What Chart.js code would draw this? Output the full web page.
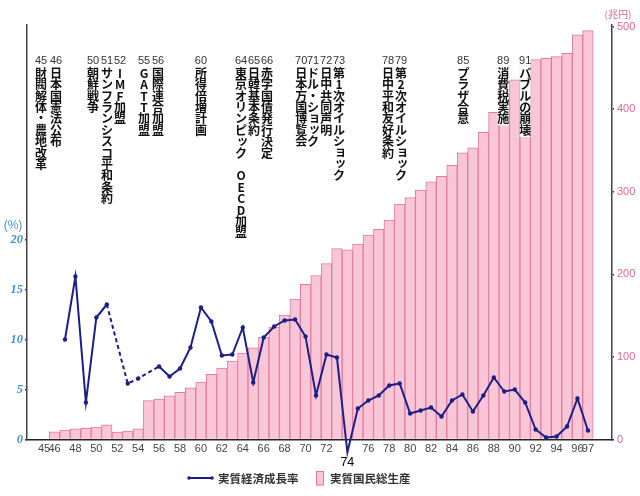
<!DOCTYPE html>
<html><head><meta charset="utf-8">
<script src="https://cdn.jsdelivr.net/npm/chart.js@4"></script>
<style>html,body{margin:0;padding:0;background:#fff;}canvas{display:block;}</style>
</head><body>
<canvas id="c" width="640" height="496"></canvas>
<script>
// ---- data ----
const years = [1946,1947,1948,1949,1950,1951,1952,1953,1954,1955,1956,1957,1958,1959,1960,1961,1962,1963,1964,1965,1966,1967,1968,1969,1970,1971,1972,1973,1974,1975,1976,1977,1978,1979,1980,1981,1982,1983,1984,1985,1986,1987,1988,1989,1990,1991,1992,1993,1994,1995,1996,1997];
const gdp = [9.2,11.3,13,13.5,15,17.8,9,10.3,12.8,47,49,53,57,62.5,69.5,79,86.5,95,104.5,111,124,136,150.5,170,188,198.5,213,231,229.5,236.5,247.5,254.5,265.5,285,293,302,312,318.5,332,347,353,372,396,415,435.5,459.5,460,461.5,463.5,467.5,490,495];
const growthYears = [1947,1948,1949,1950,1951,1953,1954,1956,1957,1958,1959,1960,1961,1962,1963,1964,1965,1966,1967,1968,1969,1970,1971,1972,1973,1974,1975,1976,1977,1978,1979,1980,1981,1982,1983,1984,1985,1986,1987,1988,1989,1990,1991,1992,1993,1994,1995,1996,1997];
const growth = [10.0,16.3,3.7,12.2,13.5,5.6,6.1,7.3,6.3,7.1,9.2,13.2,11.8,8.4,8.5,11.2,5.7,10.2,11.3,11.9,12.0,10.3,4.4,8.5,8.2,-1.3,3.1,3.9,4.4,5.4,5.6,2.6,2.9,3.2,2.3,3.9,4.5,2.8,4.4,6.2,4.8,5.0,3.7,1.0,0.2,0.3,1.3,4.1,0.9];
const dashedFrom = 1951, dashedTo = 1956;
const xTickYears = [1945,1946,1948,1950,1952,1954,1956,1958,1960,1962,1964,1966,1968,1970,1972,1974,1976,1978,1980,1982,1984,1986,1988,1990,1992,1994,1996,1997];
const leftTicks = [0,5,10,15,20];
const rightTicks = [0,100,200,300,400,500];
const eventYears = [1945,1946,1950,1951,1952,1955,1956,1960,1964,1965,1966,1970,1971,1972,1973,1978,1979,1985,1989,1991];
const eventTexts = ['財閥解体・農地改革','日本国憲法公布','朝鮮戦争','サンフランシスコ平和条約','IMF加盟','GATT加盟','国際連合加盟','所得倍増計画','東京オリンピック　OECD加盟','日韓基本条約','赤字国債発行決定','日本万国博覧会','ドル・ショック','日中共同声明','第1次オイルショック','日中平和友好条約','第2次オイルショック','プラザ合意','消費税実施','バブルの崩壊'];
const seriesNames = ['実質経済成長率','実質国民総生産'];

// ---- layout / style ----
const eventNudge = [-3,1.5,-3.3,0.2,2.8,-4.6,-1.1,0,-1.7,0.8,3.4,-4.4,-2.9,-0.3,2.2,-1.1,1.4,0.7,-1.1,0];
const NAVY = '#1c1f86';
const PINK = '#f9c6d7';
const PINK_B = '#e27a9c';
const SANS = "'Liberation Sans', Arial, sans-serif";
const JP = "'Noto Sans CJK JP', sans-serif";

const annot = {
  id: 'annot',
  afterDatasetsDraw(chart) {
    const {ctx} = chart;
    const x = chart.scales.x;
    const STEP = 11.4, TOP = 67.5;
    ctx.save();
    ctx.textAlign = 'center';
    ctx.textBaseline = 'middle';
    eventYears.forEach((yr, i) => {
      const cx = x.getPixelForValue(yr) + eventNudge[i];
      const chars = Array.from(eventTexts[i]);
      const bottom = TOP + chars.length * STEP + 1;
      ctx.fillStyle = '#fff';
      ctx.fillRect(cx - 5.5, 54, 11, bottom - 54);
      ctx.fillStyle = '#333';
      ctx.font = "11px " + SANS;
      ctx.fillText(String(yr).slice(2), cx, 60.5);
      ctx.fillStyle = '#111';
      ctx.font = "bold 12px " + JP;
      chars.forEach((ch, j) => {
        if (ch === '　' || ch === ' ') return;
        let dx = 0, dy = 0;
        if ('ッョャュァィゥェォ'.includes(ch)) { dx = 1.5; dy = -1.5; }
        ctx.fillText(ch, cx + dx, TOP + STEP * (j + 0.5) + dy);
      });
    });
    ctx.restore();
  },
  afterDraw(chart) {
    const {ctx} = chart;
    ctx.save();
    ctx.textBaseline = 'middle';
    ctx.textAlign = 'center';
    ctx.fillStyle = '#4a93d3';
    ctx.font = "12px " + SANS;
    ctx.fillText('(%)', 13, 226);
    ctx.fillStyle = '#e06a92';
    ctx.font = "10px " + JP;
    ctx.fillText('(兆円)', 618, 14);
    // legend
    ctx.strokeStyle = NAVY; ctx.fillStyle = NAVY; ctx.lineWidth = 2;
    ctx.beginPath(); ctx.moveTo(189, 478); ctx.lineTo(212, 478); ctx.stroke();
    [189, 212].forEach(px => { ctx.beginPath(); ctx.arc(px, 478, 1.8, 0, Math.PI * 2); ctx.fill(); });
    ctx.fillStyle = PINK; ctx.fillRect(316, 471.5, 8, 14);
    ctx.strokeStyle = PINK_B; ctx.lineWidth = 1; ctx.strokeRect(316.5, 471.5, 7, 13.5);
    ctx.fillStyle = '#333';
    ctx.textAlign = 'left';
    ctx.font = "bold 11.5px " + JP;
    ctx.fillText(seriesNames[0], 218, 478.5);
    ctx.fillText(seriesNames[1], 330, 478.5);
    ctx.restore();
  }
};

new Chart(document.getElementById('c'), {
  type: 'bar',
  data: {
    datasets: [
      {
        type: 'line', label: seriesNames[0], yAxisID: 'yL',
        data: growthYears.map((y, i) => ({x: y, y: growth[i]})),
        borderColor: NAVY, backgroundColor: NAVY, borderWidth: 2,
        pointRadius: 2.2, pointBorderWidth: 0, pointBackgroundColor: NAVY,
        tension: 0, clip: false,
        segment: {
          borderDash: c => (growthYears[c.p0DataIndex] >= dashedFrom && growthYears[c.p1DataIndex] <= dashedTo) ? [4, 3] : undefined
        }
      },
      {
        type: 'bar', label: seriesNames[1], yAxisID: 'yR',
        data: years.map((y, i) => ({x: y, y: gdp[i]})),
        backgroundColor: PINK, borderColor: PINK_B, borderWidth: 1,
        barPercentage: 1, categoryPercentage: 1
      }
    ]
  },
  options: {
    responsive: false, animation: false, devicePixelRatio: 1,
    layout: {padding: {top: 25, left: 0, right: 0, bottom: 0}},
    plugins: {legend: {display: false}, tooltip: {enabled: false}},
    scales: {
      x: {
        type: 'linear', position: 'bottom', min: 1943.37, max: 1999.3, offset: false,
        grid: {display: false, drawTicks: false, tickLength: 0},
        border: {display: true, color: '#222', width: 1.5},
        afterBuildTicks: s => { s.ticks = xTickYears.map(v => ({value: v})); },
        afterFit: s => { s.height = 56.5; },
        ticks: {
          autoSkip: false, maxRotation: 0, minRotation: 0, padding: 4,
          callback: v => v === 1974 ? ['', '74'] : String(v).slice(2),
          color: c => (c.tick && c.tick.value === 1974) ? '#000' : '#444',
          font: c => (c.tick && c.tick.value === 1974) ? {family: SANS, size: 12.5, lineHeight: 1.0} : {family: SANS, size: 11, lineHeight: 1.0}
        }
      },
      yL: {
        type: 'linear', position: 'left', min: 0, max: 41.45,
        grid: {display: true, drawOnChartArea: false, drawTicks: true, tickLength: 2, color: '#333', lineWidth: 1.5},
        border: {display: true, color: '#444', width: 1.5},
        afterBuildTicks: s => { s.ticks = leftTicks.map(v => ({value: v})); },
        afterFit: s => { s.width = 27; },
        ticks: {padding: 2, color: '#3f8fd2', font: {family: "'Liberation Serif', serif", size: 12.5, style: 'italic', weight: 'bold'}}
      },
      yR: {
        type: 'linear', position: 'right', min: 0, max: 501.8,
        grid: {display: true, drawOnChartArea: false, drawTicks: true, tickLength: 2, color: '#333', lineWidth: 1.5},
        border: {display: true, color: '#444', width: 1.5},
        afterBuildTicks: s => { s.ticks = rightTicks.map(v => ({value: v})); },
        afterFit: s => { s.width = 28; },
        ticks: {padding: 3, color: '#e0678f', font: {family: SANS, size: 11}}
      }
    }
  },
  plugins: [annot]
});
</script>
</body></html>
